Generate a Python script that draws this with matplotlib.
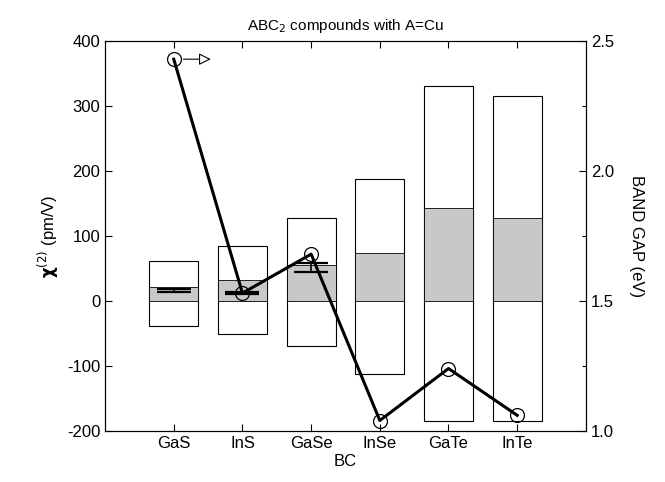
import matplotlib
matplotlib.use("Agg")
import matplotlib.pyplot as plt
import numpy as np

plt.rcParams['font.family'] = ['Liberation Sans', 'DejaVu Sans']
plt.rcParams['axes.unicode_minus'] = False

# compounds CuBC2
categories = ["GaS", "InS", "GaSe", "InSe", "GaTe", "InTe"]
chi_max = [61, 84, 127, 188, 330, 315]
chi_min = [-39, -51, -70, -113, -185, -185]
chi_grey = [22, 32, 56, 73, 143, 127]
# measured chi(2) with error
meas_val = [16, 12.5, 51]
meas_err = [3, 1.5, 7]
band_gap = [2.43, 1.53, 1.68, 1.04, 1.24, 1.06]

x = np.arange(1, len(categories) + 1)

fig = plt.figure(figsize=(6.65, 4.82), dpi=100)
ax = fig.add_axes([0.158, 0.106, 0.723, 0.809])

width = 0.71
ax.bar(x, np.array(chi_max) - np.array(chi_min), width, bottom=chi_min,
       color='white', edgecolor='black', linewidth=0.8, zorder=1)
ax.bar(x, chi_grey, width, bottom=0, color='#c8c8c8',
       edgecolor='black', linewidth=0.6, zorder=2)
ax.errorbar(x[:len(meas_val)], meas_val, yerr=meas_err, fmt='none',
            ecolor='black', elinewidth=1.2, capsize=12, capthick=1.6, zorder=3)

ax.set_xlim(0, 7)
ax.set_ylim(-200, 400)
ax.set_yticks(np.arange(-200, 401, 100))
ax.set_xticks(x, categories)
ax.tick_params(axis='both', direction='in', labelsize=12, length=5, width=0.8)
ax.tick_params(axis='x', top=True)
ax.set_xlabel("BC", fontsize=12, labelpad=2)
ax.set_ylabel(r"$\mathbf{\chi}^{(2)}$ (pm/V)", fontsize=12, labelpad=4)
ax.set_title(r"ABC$_2$ compounds with A=Cu", fontsize=11, pad=8)
for s in ax.spines.values():
    s.set_linewidth(0.8)

ax2 = ax.twinx()
ax2.plot(x, band_gap, color='black', linewidth=2.2, marker='o',
         markersize=10, markerfacecolor='none', markeredgecolor='black',
         markeredgewidth=0.9)
ax2.set_ylim(1.0, 2.5)
ax2.set_yticks([1.0, 1.5, 2.0, 2.5])
ax2.set_yticks(np.arange(1.0, 2.51, 0.25), minor=True)
ax2.tick_params(axis='y', which='both', direction='in', labelsize=12, width=0.8)
ax2.tick_params(axis='y', which='major', length=5)
ax2.tick_params(axis='y', which='minor', length=3)
ax2.set_ylabel("BAND GAP (eV)", fontsize=12, rotation=270, labelpad=22)
ax2.annotate("", xy=(1.58, band_gap[0]), xytext=(1.1, band_gap[0]),
             arrowprops=dict(arrowstyle='-|>', color='black', fc='white',
                             lw=0.8, mutation_scale=18))

fig.savefig("out.png", dpi=100)
